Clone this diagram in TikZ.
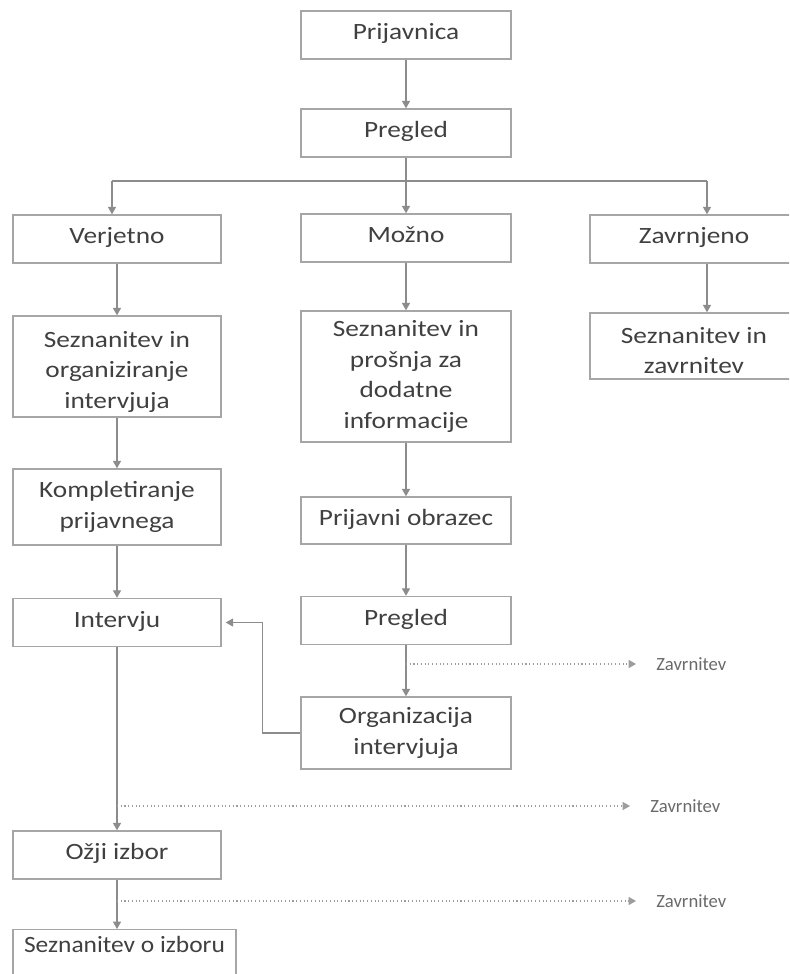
\documentclass[tikz,border=0pt]{standalone}
\usepackage{fontspec}
\setmainfont{Carlito}
\newfontfamily\boxfont[FakeStretch=1.17]{Carlito}
\newfontfamily\boxfontn[FakeStretch=1.09]{Carlito}
\usetikzlibrary{arrows.meta,calc}
\definecolor{boxgray}{HTML}{A6A6A6}
\definecolor{linegray}{HTML}{8C8C8C}
\definecolor{textgray}{HTML}{404040}
\definecolor{lblgray}{HTML}{6A6A6A}
\newcommand\topstrut[1]{\rule{0pt}{#1}}
\begin{document}
\begin{tikzpicture}[x=0.75pt,y=-0.75pt,
 box/.style={draw=boxgray,line width=1.1pt,inner sep=0pt,align=center,text=textgray,
   font=\boxfont\fontsize{17.5pt}{22.8pt}\selectfont,minimum width=157.5pt,minimum height=36pt},
 one/.style={text height=12pt,text depth=5pt},
 narrow/.style={minimum width=156pt},
 arr/.style={draw=linegray,line width=0.8pt,-{Triangle[width=6pt,length=5.5pt]}},
 ln/.style={draw=linegray,line width=0.8pt},
 dotarr/.style={draw=linegray!85,line width=0.8pt,dotted,-{Triangle[width=6pt,length=5.5pt]},shorten >=15pt},
 lbl/.style={text=lblgray,font=\fontsize{14pt}{16pt}\selectfont,inner sep=0pt,anchor=west}]
\useasboundingbox (0,0) rectangle (789,974);
\clip (0,0) rectangle (789,974);
\fill[white] (0,0) rectangle (789,974);

% nodes
\node[box,one] (pri) at (406,35) {Prijavnica};
\node[box,one] (preg1) at (406,133) {Pregled};
\node[box,one,narrow] (ver) at (117,239) {Verjetno};
\node[box,one] (moz) at (406,238) {Možno};
\node[box,one,narrow] (zav) at (694,239) {Zavrnjeno};
\node[box,narrow,minimum height=75.75pt] (s1) at (117,366.5) {\topstrut{20pt}Seznanitev in\\organiziranje\\intervjuja};
\node[box,minimum height=98.25pt] (s2) at (406,376.5) {Seznanitev in\\prošnja za\\dodatne\\informacije};
\node[box,narrow,minimum height=49.5pt] (s3) at (694,346) {\topstrut{18.5pt}Seznanitev in\\zavrnitev};
\node[box,narrow,minimum height=57pt] (komp) at (117,507) {Kompletiranje\\prijavnega};
\node[box,one,minimum height=35.25pt] (prob) at (406,520.5) {Prijavni obrazec};
\node[box,one,narrow] (interv) at (117,622.5) {Intervju};
\node[box,one] (preg2) at (406,620.5) {Pregled};
\node[box,minimum height=54pt] (org) at (406,733) {Organizacija\\intervjuja};
\node[box,one,narrow] (ozji) at (117,855) {Ožji izbor};
\node[box,anchor=north,minimum width=167.25pt,minimum height=0pt,inner ysep=4.8pt,
  text height=12.5pt,text depth=40pt,font=\boxfontn\fontsize{17.5pt}{22.8pt}\selectfont] (szi) at (124.5,929) {Seznanitev o izboru};

% labels
\node[lbl] (z1) at (656,664) {Zavrnitev};
\node[lbl] (z2) at (650,806) {Zavrnitev};
\node[lbl] (z3) at (656,901) {Zavrnitev};

% coordinates
\coordinate (bl) at (112,181);
\coordinate (br) at (707,181);
\coordinate (d1) at (406,664);
\coordinate (d2) at (117,806);
\coordinate (d3) at (117,901);

% connectors
\draw[arr] (pri) -- (preg1);
\draw[arr] (preg1) -- (moz);
\draw[ln] (bl) -- (br);
\draw[arr] (bl) -- (bl |- ver.north);
\draw[arr] (br) -- (br |- zav.north);
\draw[arr] (ver) -- (s1);
\draw[arr] (moz) -- (s2);
\draw[arr] (zav.south -| br) -- (br |- s3.north);
\draw[arr] (s1) -- (komp);
\draw[arr] (s2) -- (prob);
\draw[arr] (komp) -- (interv);
\draw[arr] (prob) -- (preg2);
\draw[arr] (preg2) -- (org);
\draw[arr,shorten >=3pt] (org.west) -- ++(-38,0) |- (interv.east);
\draw[arr] (interv) -- (ozji);
\draw[arr] (ozji.south) -- (szi.north -| ozji.south);
\draw[dotarr] (d1) -- (z1.west);
\draw[dotarr] (d2) -- (z2.west);
\draw[dotarr] (d3) -- (z3.west);
\end{tikzpicture}
\end{document}
